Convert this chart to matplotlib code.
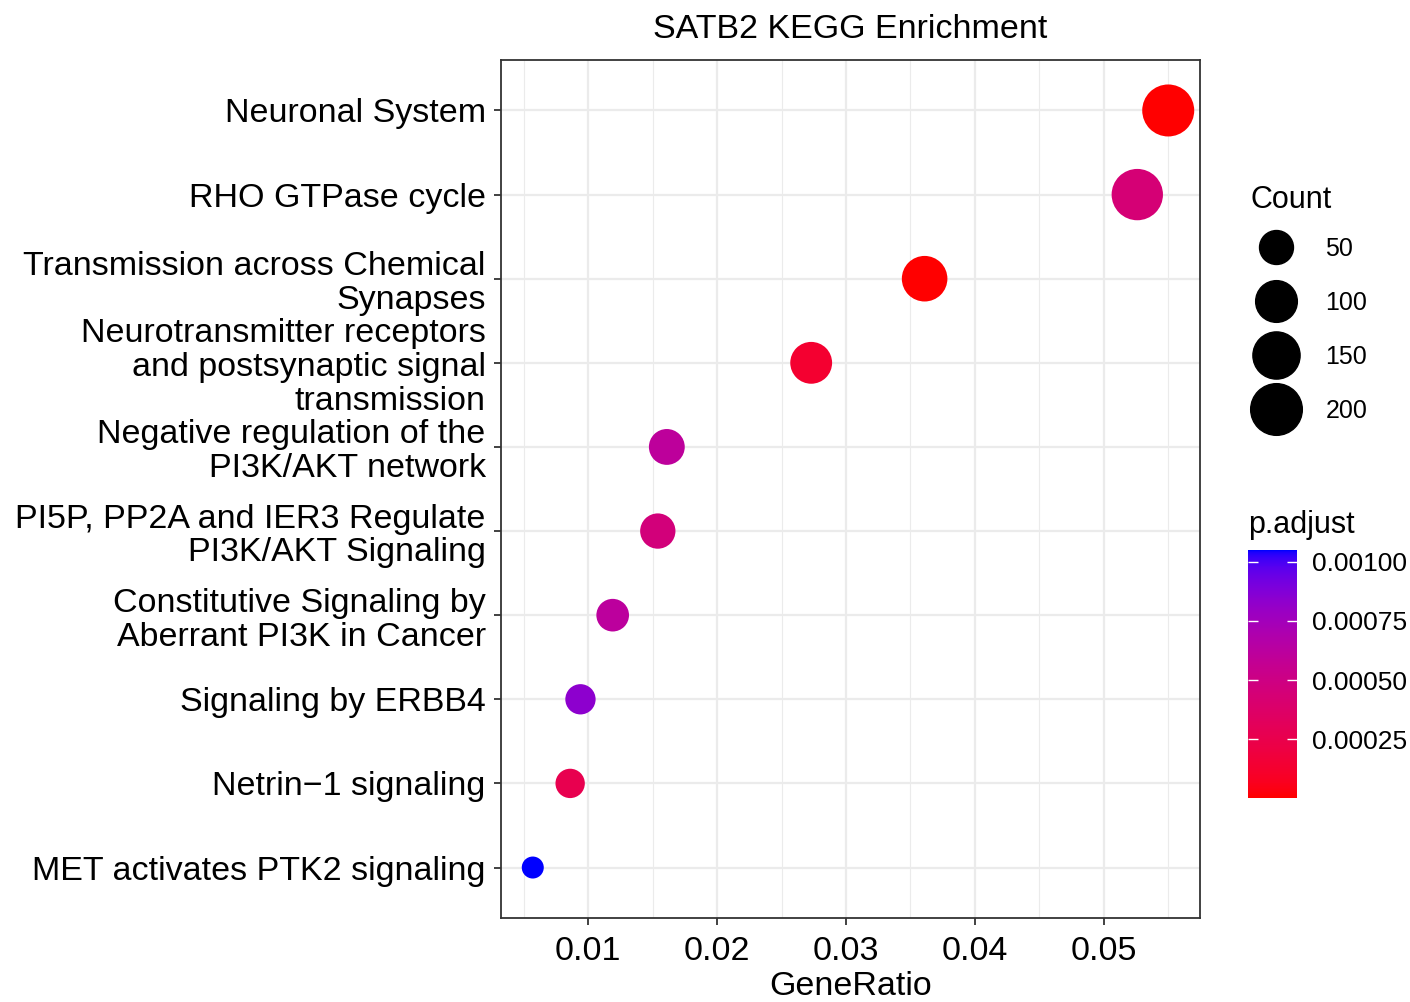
import numpy as np
import matplotlib
matplotlib.use("Agg")
import matplotlib.pyplot as plt
from matplotlib.colors import ListedColormap, Normalize
from matplotlib.lines import Line2D
from matplotlib.ticker import MultipleLocator

plt.rcParams["font.family"] = ["Liberation Sans", "DejaVu Sans"]

# data, top row first
terms = [
    "Neuronal System",
    "RHO GTPase cycle",
    "Transmission across Chemical\nSynapses",
    "Neurotransmitter receptors\nand postsynaptic signal\ntransmission",
    "Negative regulation of the\nPI3K/AKT network",
    "PI5P, PP2A and IER3 Regulate\nPI3K/AKT Signaling",
    "Constitutive Signaling by\nAberrant PI3K in Cancer",
    "Signaling by ERBB4",
    "Netrin\u22121 signaling",
    "MET activates PTK2 signaling",
]
gene_ratio = [0.0550, 0.0526, 0.0361, 0.0273, 0.0161, 0.0154, 0.0119, 0.0094, 0.0086, 0.0057]
counts = [204, 196, 134, 101, 60, 57, 44, 35, 32, 21]
p_adjust = [0.000002, 0.00044, 0.000005, 0.00013, 0.00061, 0.00046, 0.00062, 0.00084, 0.00026, 0.00105]

size_breaks = [50, 100, 150, 200]
color_ticks = [0.00025, 0.00050, 0.00075, 0.00100]


def srgb_to_lab(rgb):
    rgb = np.asarray(rgb, dtype=float)
    lin = np.where(rgb <= 0.04045, rgb / 12.92, ((rgb + 0.055) / 1.055) ** 2.4)
    m = np.array([[0.4124, 0.3576, 0.1805],
                  [0.2126, 0.7152, 0.0722],
                  [0.0193, 0.1192, 0.9505]])
    xyz = m @ lin / np.array([0.95047, 1.0, 1.08883])
    f = np.where(xyz > 0.008856, np.cbrt(xyz), 7.787 * xyz + 16 / 116)
    return np.array([116 * f[1] - 16, 500 * (f[0] - f[1]), 200 * (f[1] - f[2])])


def lab_to_srgb(lab):
    fy = (lab[0] + 16) / 116
    fx = fy + lab[1] / 500
    fz = fy - lab[2] / 200
    f = np.array([fx, fy, fz])
    xyz = np.where(f ** 3 > 0.008856, f ** 3, (f - 16 / 116) / 7.787)
    xyz = xyz * np.array([0.95047, 1.0, 1.08883])
    m = np.array([[3.2406, -1.5372, -0.4986],
                  [-0.9689, 1.8758, 0.0415],
                  [0.0557, -0.2040, 1.0570]])
    lin = np.clip(m @ xyz, 0, 1)
    rgb = np.where(lin <= 0.0031308, 12.92 * lin, 1.055 * lin ** (1 / 2.4) - 0.055)
    return np.clip(rgb, 0, 1)


def red_blue_lab():
    lo = srgb_to_lab([1, 0, 0])
    hi = srgb_to_lab([0, 0, 1])
    cols = [lab_to_srgb(lo + t * (hi - lo)) for t in np.linspace(0, 1, 256)]
    return ListedColormap(cols)


def dot_size(c):
    # ggplot-like area scale: diameter from ~22 px to ~52 px
    cmin, cmax = min(counts), max(counts)
    frac = np.clip((np.asarray(c, float) - cmin) / (cmax - cmin), 0, 1)
    d_px = 22 + 30 * np.sqrt(frac)
    d_pt = d_px * 72 / 100
    return d_pt ** 2


cmap = red_blue_lab()
norm = Normalize(vmin=min(p_adjust), vmax=max(p_adjust))

fig = plt.figure(figsize=(14.1, 10.02), dpi=100)
ax = fig.add_axes([501 / 1410, 1 - 918 / 1002, 699 / 1410, 858 / 1002])

ypos = np.arange(len(terms))
ax.scatter(gene_ratio, ypos, s=dot_size(counts), c=p_adjust, cmap=cmap, norm=norm,
           linewidths=0, zorder=3)

ax.set_ylim(len(terms) - 0.4, -0.6)
ax.margins(x=0.05)
ax.set_yticks(ypos)
ax.set_yticklabels(terms, fontsize=24.5, linespacing=1.12)
ax.xaxis.set_major_locator(MultipleLocator(0.01))
ax.xaxis.set_minor_locator(MultipleLocator(0.005))
ax.set_xticks([0.01, 0.02, 0.03, 0.04, 0.05])
ax.set_xticklabels(["0.01", "0.02", "0.03", "0.04", "0.05"], fontsize=24.5)
ax.set_xlabel("GeneRatio", fontsize=24.5, labelpad=3)
ax.set_title("SATB2 KEGG Enrichment", fontsize=24.5, pad=16)

ax.grid(True, which="major", color="#EBEBEB", linewidth=1.6, zorder=0)
ax.grid(True, which="minor", axis="x", color="#EBEBEB", linewidth=0.8, zorder=0)
ax.set_axisbelow(True)
ax.tick_params(axis="y", which="major", length=5, width=1.3, color="#333333",
               labelcolor="black", pad=6)
ax.tick_params(axis="x", which="major", length=5, width=1.3, color="#333333",
               labelcolor="black", pad=8)
ax.tick_params(axis="x", which="minor", length=0)
for sp in ax.spines.values():
    sp.set_color("#333333")
    sp.set_linewidth(1.3)

# size legend
handles = [Line2D([], [], linestyle="none", marker="o", color="black",
                  markersize=np.sqrt(dot_size(b))) for b in size_breaks]
leg = fig.legend(handles, [str(b) for b in size_breaks], title="Count",
                 loc="upper left", bbox_to_anchor=(1238 / 1410, 1 - 172 / 1002),
                 frameon=False, fontsize=18, title_fontsize=22, labelspacing=1.2,
                 handletextpad=1.0, borderpad=0, handlelength=2.0)
leg._legend_box.align = "left"
leg._legend_box.sep = 16

# colour bar
cax = fig.add_axes([1248 / 1410, 1 - 798 / 1002, 49 / 1410, 248 / 1002])
sm = matplotlib.cm.ScalarMappable(norm=norm, cmap=cmap)
cb = fig.colorbar(sm, cax=cax, ticks=color_ticks)
cb.ax.set_yticklabels([f"{t:.5f}" for t in color_ticks], fontsize=19)
cb.outline.set_visible(False)
cax.tick_params(axis="y", direction="in", length=7, width=1, color="white",
                left=True, right=True, pad=11)
cax.set_title("p.adjust", fontsize=22, loc="left", pad=12, x=0)

fig.savefig("out.png", dpi=100)
